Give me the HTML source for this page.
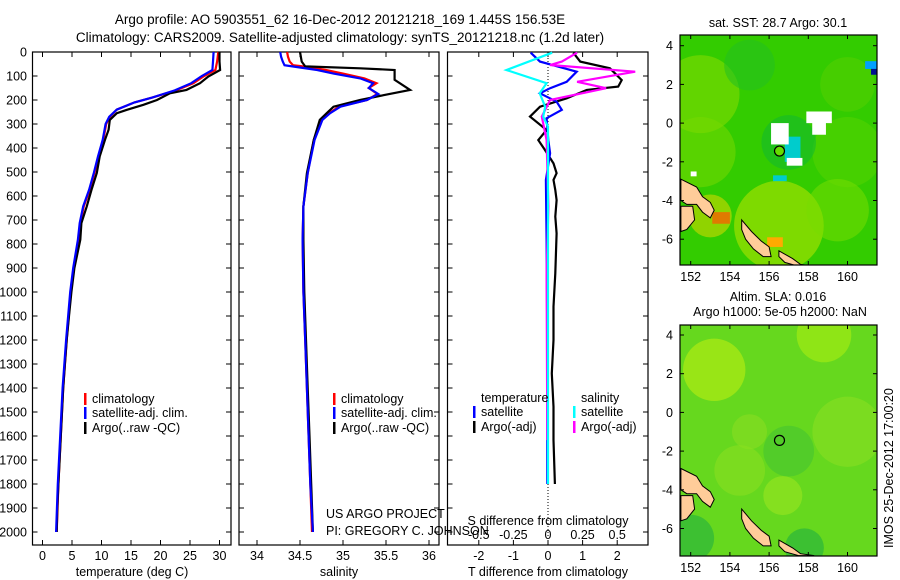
<!DOCTYPE html>
<html><head><meta charset="utf-8">
<style>
html,body{margin:0;padding:0;background:#fff;}
svg{display:block;font-family:"Liberation Sans",sans-serif;}
text{fill:#000;}
</style></head>
<body>
<svg id="c" width="900" height="580" viewBox="0 0 900 580" xmlns="http://www.w3.org/2000/svg">
<text x="340" y="24" font-size="13.5" text-anchor="middle">Argo profile: AO 5903551_62 16-Dec-2012 20121218_169 1.445S 156.53E</text>
<text x="340" y="42" font-size="13.5" text-anchor="middle">Climatology: CARS2009. Satellite-adjusted climatology: synTS_20121218.nc (1.2d later)</text>
<g id="plots"></g>
<g id="maps"></g>
<text transform="translate(893,548) rotate(-90)" font-size="12.5">IMOS 25-Dec-2012 17:00:20</text>
</svg>
<script>
// ---------- data ----------
const depthTicks = [0,100,200,300,400,500,600,700,800,900,1000,1100,1200,1300,1400,1500,1600,1700,1800,1900,2000];
const tempTicks = [0,5,10,15,20,25,30];
const salTicks = [34,34.5,35,35.5,36];
const salTickLabels = ["34","34.5","35","35.5","36"];
const tdiffTicks = [-2,-1,0,1,2];
const sdiffTicks = [-0.5,-0.25,0,0.25,0.5];
const sdiffTickLabels = ["-0.5","-0.25","0","0.25","0.5"];

const argoDepth = [0,40,75,102,130,158,172,200,220,241,255,283,324,366,435,504,574,643,713,782,900,1000,1100,1200,1300,1400,1500,1600,1700,1800,1900,2000];
const argoTemp  = [30.0,30.0,30.1,28.1,26.7,24.4,21.6,19.4,17.1,14.3,12.6,11.4,11.2,10.6,9.7,9.2,8.3,7.5,6.6,6.4,5.4,4.9,4.5,4.1,3.8,3.5,3.3,3.1,2.9,2.7,2.5,2.4];
const climDepth = [0,40,75,100,130,160,190,210,240,270,300,366,435,504,574,643,713,782,900,1000,1200,1400,1600,1800,2000];
const climTemp  = [29.8,29.6,29.3,27.4,25.6,22.6,18.6,15.6,12.6,11.4,10.8,10.3,9.5,8.8,8.0,7.0,6.4,6.1,5.3,4.8,4.1,3.5,3.1,2.7,2.4];
const satTemp   = [29.0,28.9,28.8,27.0,25.2,22.4,18.6,15.6,12.6,11.3,10.7,10.2,9.4,8.7,7.9,6.9,6.3,6.0,5.2,4.7,4.0,3.4,3.0,2.6,2.3];

const argoSalDepth = [0,40,60,68,75,116,158,180,200,228,255,283,366,505,643,782,1000,1200,1400,1600,1800,2000];
const argoSal      = [34.5,34.52,34.56,35.2,35.6,35.6,35.78,35.47,35.2,34.89,34.81,34.73,34.66,34.58,34.54,34.54,34.55,34.57,34.59,34.61,34.63,34.65];
const climSalDepth = [0,20,40,55,62,75,90,110,130,150,175,200,228,255,283,366,505,643,782,1000,1200,1400,1600,1800,2000];
const climSal      = [34.35,34.36,34.38,34.42,34.58,34.8,35.0,35.25,35.39,35.3,35.4,35.28,34.95,34.84,34.75,34.66,34.59,34.54,34.53,34.54,34.56,34.58,34.6,34.62,34.64];
const satSal       = [34.27,34.28,34.3,34.32,34.45,34.7,34.89,35.2,35.35,35.3,35.41,35.28,34.97,34.85,34.76,34.67,34.59,34.54,34.53,34.54,34.56,34.58,34.6,34.62,34.65];

const dTArgoDepth = [3,40,68,117,144,158,193,228,269,325,367,408,464,505,533,575,617,686,756,922,1061,1200,1339,1478,1617,1800];
const dTArgo      = [0.73,0.93,1.79,2.13,2.03,1.12,0.54,-0.23,-0.52,-0.04,-0.28,-0.09,0.16,0.25,0.16,0.21,0.25,0.21,0.25,0.21,0.16,0.16,0.11,0.16,0.16,0.2];
const dTSatDepth  = [3,40,82,124,151,172,207,241,276,367,422,533,783,1200,1617,1800];
const dTSat       = [-0.5,-0.23,0.83,0.54,0.06,-0.23,0.25,0.4,-0.04,0.01,0.06,-0.06,-0.04,-0.02,-0.02,-0.02];
const dSSatDepth  = [3,75,130,172,228,269,311,800,1800];
const dSSat       = [0.03,-0.3,-0.01,-0.06,-0.02,-0.035,0.0,0.0,0.0];
const dSArgoDepth = [3,40,54,82,124,151,200,269,367,644,922,1617];
const dSArgo      = [0.21,0.1,0.015,0.63,0.21,0.42,0.015,-0.045,-0.01,0.003,-0.01,-0.005];

// ---------- helpers ----------
const NS="http://www.w3.org/2000/svg";
const plots=document.getElementById('plots');
function mk(tag,attrs,parent){const e=document.createElementNS(NS,tag);for(const k in attrs)e.setAttribute(k,attrs[k]);(parent||plots).appendChild(e);return e;}
const top0=52, pxm=0.24, pBottom=545;
const yD=d=>top0+d*pxm;

const panels=[
 {x0:32.5,x1:231,name:'temperature-panel',sx:v=>42.5+v*5.9},
 {x0:239,x1:439,name:'salinity-panel',sx:v=>257+(v-34)*86},
 {x0:447.5,x1:648,name:'difference-panel',sx:v=>548+v*34.6}
];
panels.forEach((p,i)=>{
  const r=mk('rect',{x:p.x0,y:top0,width:p.x1-p.x0,height:pBottom-top0,fill:'none',stroke:'#000','stroke-width':1.2});
  
  
  depthTicks.forEach(d=>{
    mk('line',{x1:p.x0,x2:p.x0+5,y1:yD(d),y2:yD(d),stroke:'#000'});
    mk('line',{x1:p.x1,x2:p.x1-5,y1:yD(d),y2:yD(d),stroke:'#000'});
    if(i===0){const t=mk('text',{x:27,y:yD(d)+4.5,'font-size':12.5,'text-anchor':'end'});t.textContent=d;
      
      }
  });
});
function xticks(p,vals,labels,y,fs){
  vals.forEach((v,k)=>{const x=p.sx(v);
    mk('line',{x1:x,x2:x,y1:top0,y2:top0+5,stroke:'#000'});
    mk('line',{x1:x,x2:x,y1:pBottom,y2:pBottom-5,stroke:'#000'});
    const t=mk('text',{x:x,y:y,'font-size':fs,'text-anchor':'middle'});t.textContent=labels?labels[k]:v;
    
    
  });
}
xticks(panels[0],tempTicks,null,560,12.5);
xticks(panels[1],salTicks,salTickLabels,560,12.5);
xticks(panels[2],tdiffTicks,null,560,12.5);
sdiffTicks.forEach((v,k)=>{const t=mk('text',{x:panels[2].sx(v*4),y:539,'font-size':12.5,'text-anchor':'middle'});t.textContent=sdiffTickLabels[k];
  
  });
function lbl(x,y,s,name,anchor,fs){const t=mk('text',{x:x,y:y,'font-size':fs||12.5,'text-anchor':anchor||'middle'});t.textContent=s;
  
  return t;}
lbl(132,576,'temperature (deg C)','x-axis-title-temperature');
lbl(339,576,'salinity','x-axis-title-salinity');
lbl(548,576,'T difference from climatology','x-axis-title-t-diff');
lbl(548,525,'S difference from climatology','s-diff-axis-title');
lbl(326,518,'US ARGO PROJECT','project-credit','start');
lbl(326,535,'PI: GREGORY C. JOHNSON','pi-credit','start');
const zl=mk('line',{x1:548,x2:548,y1:top0,y2:pBottom-8,stroke:'#000','stroke-dasharray':'1,2'});



function series(p,depths,vals,color,name,scale){
  const pts=depths.map((d,k)=>p.sx(vals[k]*(scale||1)).toFixed(1)+','+yD(d).toFixed(1)).join(' ');
  const e=mk('polyline',{points:pts,fill:'none',stroke:color,'stroke-width':2.2,'stroke-linejoin':'miter'});
  
  
}
series(panels[0],climDepth,climTemp,'#ff0000','temp-climatology-line');
series(panels[0],argoDepth,argoTemp,'#000000','temp-argo-line');
series(panels[0],climDepth,satTemp,'#0000ff','temp-satellite-line');
series(panels[1],climSalDepth,climSal,'#ff0000','sal-climatology-line');
series(panels[1],argoSalDepth,argoSal,'#000000','sal-argo-line');
series(panels[1],climSalDepth,satSal,'#0000ff','sal-satellite-line');
series(panels[2],dTArgoDepth,dTArgo,'#000000','t-diff-argo-line');
series(panels[2],dTSatDepth,dTSat,'#0000ff','t-diff-satellite-line');
series(panels[2],dSArgoDepth,dSArgo,'#ff00ff','s-diff-argo-line',4);
series(panels[2],dSSatDepth,dSSat,'#00ffff','s-diff-satellite-line',4);

function legItem(x,y,color,text,name){
  const b=mk('rect',{x:x,y:y-10,width:2.5,height:12,fill:color});
  
  
  lbl(x+8,y,text,name,'start');
}
[[84,'temp'],[333,'sal']].forEach(([x,n])=>{
  legItem(x,403,'#ff0000','climatology',n+'-legend-climatology');
  legItem(x,417,'#0000ff','satellite-adj. clim.',n+'-legend-satellite');
  legItem(x,432,'#000000','Argo(..raw -QC)',n+'-legend-argo');
});
lbl(481,402,'temperature','diff-legend-temperature-header','start');
legItem(473,416,'#0000ff','satellite','diff-legend-t-satellite');
legItem(473,431,'#000000','Argo(-adj)','diff-legend-t-argo');
lbl(581,402,'salinity','diff-legend-salinity-header','start');
legItem(573,416,'#00ffff','satellite','diff-legend-s-satellite');
legItem(573,431,'#ff00ff','Argo(-adj)','diff-legend-s-argo');

// ---------- maps ----------
const maps=document.getElementById('maps');
const lonTicks=[152,154,156,158,160];
const latTicks=[4,2,0,-2,-4,-6];
const land1=[[151.5,-2.9],[152.3,-3.3],[152.6,-3.8],[153,-4.1],[153.2,-4.5],[153,-4.9],[152.6,-4.6],[152.3,-4.2],[151.8,-4.2],[151.5,-4.0]];
const land2=[[151.5,-4.3],[152.1,-4.3],[152.2,-5.0],[151.8,-5.5],[151.5,-5.6]];
const land3=[[154.6,-5.0],[155.1,-5.6],[155.6,-6.1],[156,-6.4],[156.1,-6.9],[155.7,-6.9],[155.2,-6.5],[154.8,-6.0],[154.6,-5.5]];
const land4=[[156.5,-6.6],[157.2,-7.0],[157.6,-7.3],[158.3,-7.4],[157.5,-7.4],[156.8,-7.2],[156.5,-6.9]];
function drawMap(y0,y1,lat4y,title1,title2,kind){
  const x0=680,x1=877;
  const g=document.createElementNS(NS,'g');maps.appendChild(g);
  
  
  const X=lon=>690.7+(lon-152)*19.6, Y=lat=>lat4y+(4-lat)*19.35;
  const id='clip'+kind;
  const cp=mk('clipPath',{id:id},g);mk('rect',{x:x0,y:y0,width:x1-x0,height:y1-y0},cp);
  const inner=mk('g',{'clip-path':'url(#'+id+')'},g);
  if(kind==='sst'){
    mk('rect',{x:x0,y:y0,width:x1-x0,height:y1-y0,fill:'#33cc00'},inner);
    const blobs=[[152.5,1.5,2.0,'#88dd00'],[152.5,-1.5,1.8,'#77d800'],[156.5,-5.3,2.3,'#bbe600'],[153,-4.8,1.1,'#ddd800'],[160,-1.5,1.8,'#55d400'],[159.5,-4.5,1.6,'#77dd00'],[157,-1,1.4,'#11b830'],[155,3,1.3,'#22c020'],[160,2,1.4,'#55d000']];
    blobs.forEach(b=>mk('circle',{cx:X(b[0]),cy:Y(b[1]),r:b[2]*19.5,fill:b[3],opacity:0.55},inner));
    [[153.1,-4.6,0.9,0.6,'#e07a00'],[155.9,-5.9,0.8,0.5,'#ffaa00'],[156.8,-0.7,0.8,1.3,'#00cccc'],[156.1,0,0.9,1.1,'#fff'],[157.9,0.6,1.3,0.6,'#fff'],[158.2,0.1,0.7,0.7,'#fff'],[156.9,-1.8,0.8,0.4,'#fff'],[160.9,3.2,0.6,0.4,'#00a0ff'],[161.2,2.8,0.5,0.3,'#001090'],[156.2,-2.7,0.7,0.3,'#00cccc'],[152,-2.5,0.3,0.25,'#fff']].forEach(r=>
      mk('rect',{x:X(r[0]),y:Y(r[1]),width:r[2]*19.6,height:r[3]*19.4,fill:r[4]},inner));
  } else {
    mk('rect',{x:x0,y:y0,width:x1-x0,height:y1-y0,fill:'#66d81e'},inner);
    [[153.2,2.2,1.6,'#bbee11'],[158.8,4,1.4,'#aaee11'],[156.7,-4.3,1.0,'#99e620'],[160,-1,1.8,'#88e022'],[157,-2,1.3,'#44c430'],[152,-6.5,1.2,'#22b040'],[157.8,-7,1.0,'#20b040'],[155,-1,0.9,'#88dd22'],[154.5,-3,1.3,'#88e020']].forEach(b=>
      mk('circle',{cx:X(b[0]),cy:Y(b[1]),r:b[2]*19.5,fill:b[3],opacity:0.6},inner));
  }
  [land1,land2,land3,land4].forEach(L=>{
    const e=mk('polygon',{points:L.map(p=>X(p[0]).toFixed(1)+','+Y(p[1]).toFixed(1)).join(' '),fill:'#ffcc99',stroke:'#000','stroke-width':1},inner);
    
    
  });
  const c=mk('circle',{cx:X(156.53),cy:Y(-1.445),r:5,fill:kind==='sst'?'#66dd00':'none',stroke:'#000','stroke-width':1.2},g);
  
  
  mk('rect',{x:x0,y:y0,width:x1-x0,height:y1-y0,fill:'none',stroke:'#000','stroke-width':1.2},g);
  latTicks.forEach(l=>{mk('line',{x1:x0,x2:x0+4,y1:Y(l),y2:Y(l),stroke:'#000'},g);mk('line',{x1:x1,x2:x1-4,y1:Y(l),y2:Y(l),stroke:'#000'},g);
    const t=mk('text',{x:673,y:Y(l)+4.5,'font-size':12.5,'text-anchor':'end'},g);t.textContent=l;
    
    });
  lonTicks.forEach(l=>{mk('line',{x1:X(l),x2:X(l),y1:y0,y2:y0+4,stroke:'#000'},g);mk('line',{x1:X(l),x2:X(l),y1:y1,y2:y1-4,stroke:'#000'},g);
    const t=mk('text',{x:X(l),y:y1+16,'font-size':12.5,'text-anchor':'middle'},g);t.textContent=l;
    
    });
  const t1=mk('text',{x:778,y:title1[1],'font-size':12.5,'text-anchor':'middle'},g);t1.textContent=title1[0];
  
  
  if(title2){const t2=mk('text',{x:780,y:title2[1],'font-size':12.5,'text-anchor':'middle'},g);t2.textContent=title2[0];
    
    }
}
drawMap(35,265,45.7,['sat. SST: 28.7 Argo: 30.1',27],null,'sst');
drawMap(325,556,335,['Altim. SLA: 0.016',301],['Argo h1000: 5e-05 h2000: NaN',316],'sla');
</script>
</body></html>
